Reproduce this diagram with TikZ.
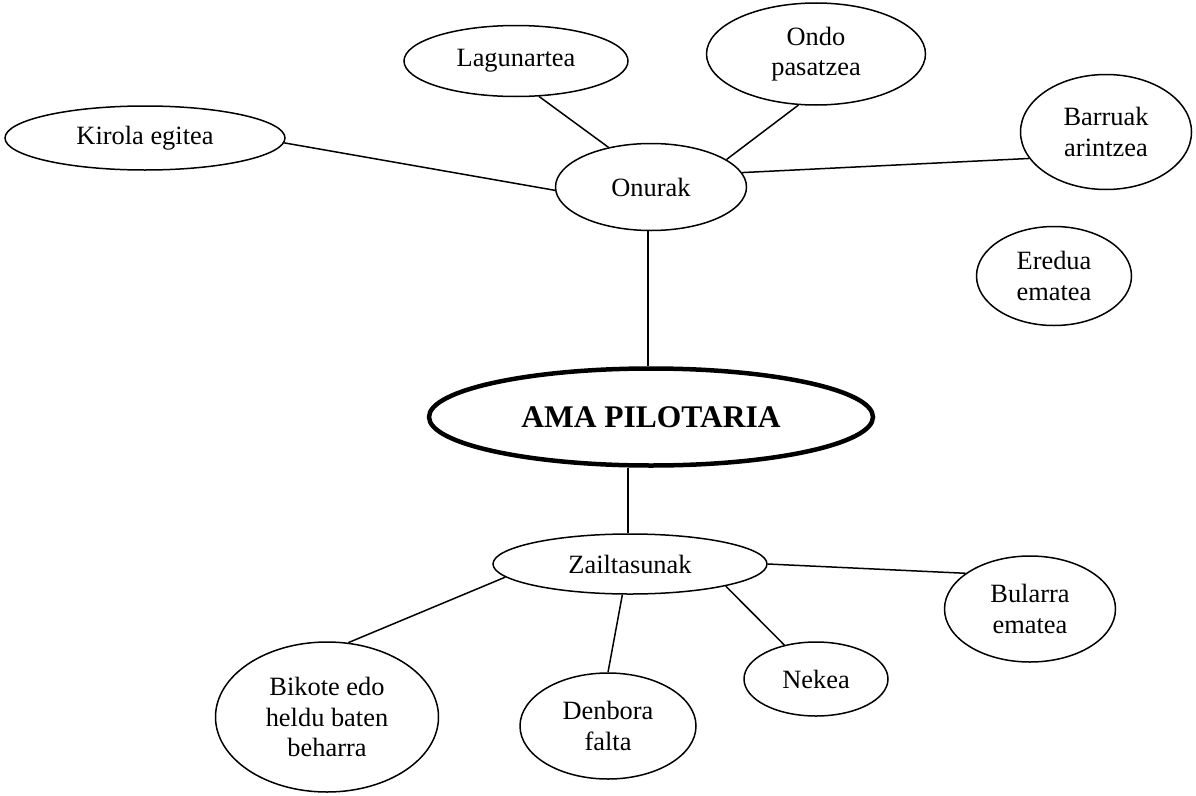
\documentclass[tikz,border=0pt]{standalone}
\usepackage{fontspec}
\setmainfont{Liberation Serif}
\usetikzlibrary{shapes.geometric}
\begin{document}
\begin{tikzpicture}[x=1pt,y=-1pt,
  bubble/.style={ellipse,draw,line width=1.5pt,inner sep=0pt,align=center,
    font=\fontsize{26.4}{30.5}\selectfont},
  mainbubble/.style={ellipse,draw,line width=4.5pt,inner sep=0pt,align=center,
    font=\fontsize{31.5}{36}\selectfont\bfseries},
  link/.style={line width=1.5pt}]
\useasboundingbox (0,0) rectangle (1196,795);
\node[bubble,minimum width=280pt,minimum height=64pt] (kir) at (145,138) {Kirola egitea};
\node[bubble,minimum width=224pt,minimum height=71pt] (lag) at (516,61) {Lagunartea};
\node[bubble,minimum width=219pt,minimum height=102pt] (ondo) at (816,54) {Ondo\\pasatzea};
\node[bubble,minimum width=171pt,minimum height=115pt] (bar) at (1106,132) {Barruak\\arintzea};
\node[bubble,minimum width=191pt,minimum height=87pt] (onu) at (651,187) {Onurak};
\node[bubble,minimum width=155pt,minimum height=99pt] (ere) at (1054,276) {Eredua\\ematea};
\node[mainbubble,minimum width=444pt,minimum height=97pt] (ama) at (651,417) {AMA PILOTARIA};
\node[bubble,minimum width=274pt,minimum height=60pt] (zail) at (630,564) {Zailtasunak};
\node[bubble,minimum width=223pt,minimum height=150pt] (bik) at (327,717) {Bikote edo\\heldu baten\\beharra};
\node[bubble,minimum width=176pt,minimum height=106pt] (den) at (608,726) {Denbora\\falta};
\node[bubble,minimum width=144pt,minimum height=74pt] (nek) at (816,679) {Nekea};
\node[bubble,minimum width=171pt,minimum height=106pt] (bul) at (1030,609) {Bularra\\ematea};

\draw[link] (kir.-2) -- (onu.-178);
\draw[link] (lag.-57) -- (onu.137);
\draw[link] (ondo.-109) -- (onu.20);
\draw[link] (bar.-161) -- (onu.9);
\draw[link] ([xshift=-3pt]onu.south) -- ([xshift=-3pt]ama.north);
\draw[link] ([xshift=-23pt]ama.south) -- ([xshift=-2pt]zail.north);
\draw[link] (zail.-174) -- (bik.74);
\draw[link] (zail.-104) -- (den.90);
\draw[link] (zail.-13) -- (nek.133);
\draw[link] (zail.0) -- (bul.151);
\end{tikzpicture}
\end{document}
